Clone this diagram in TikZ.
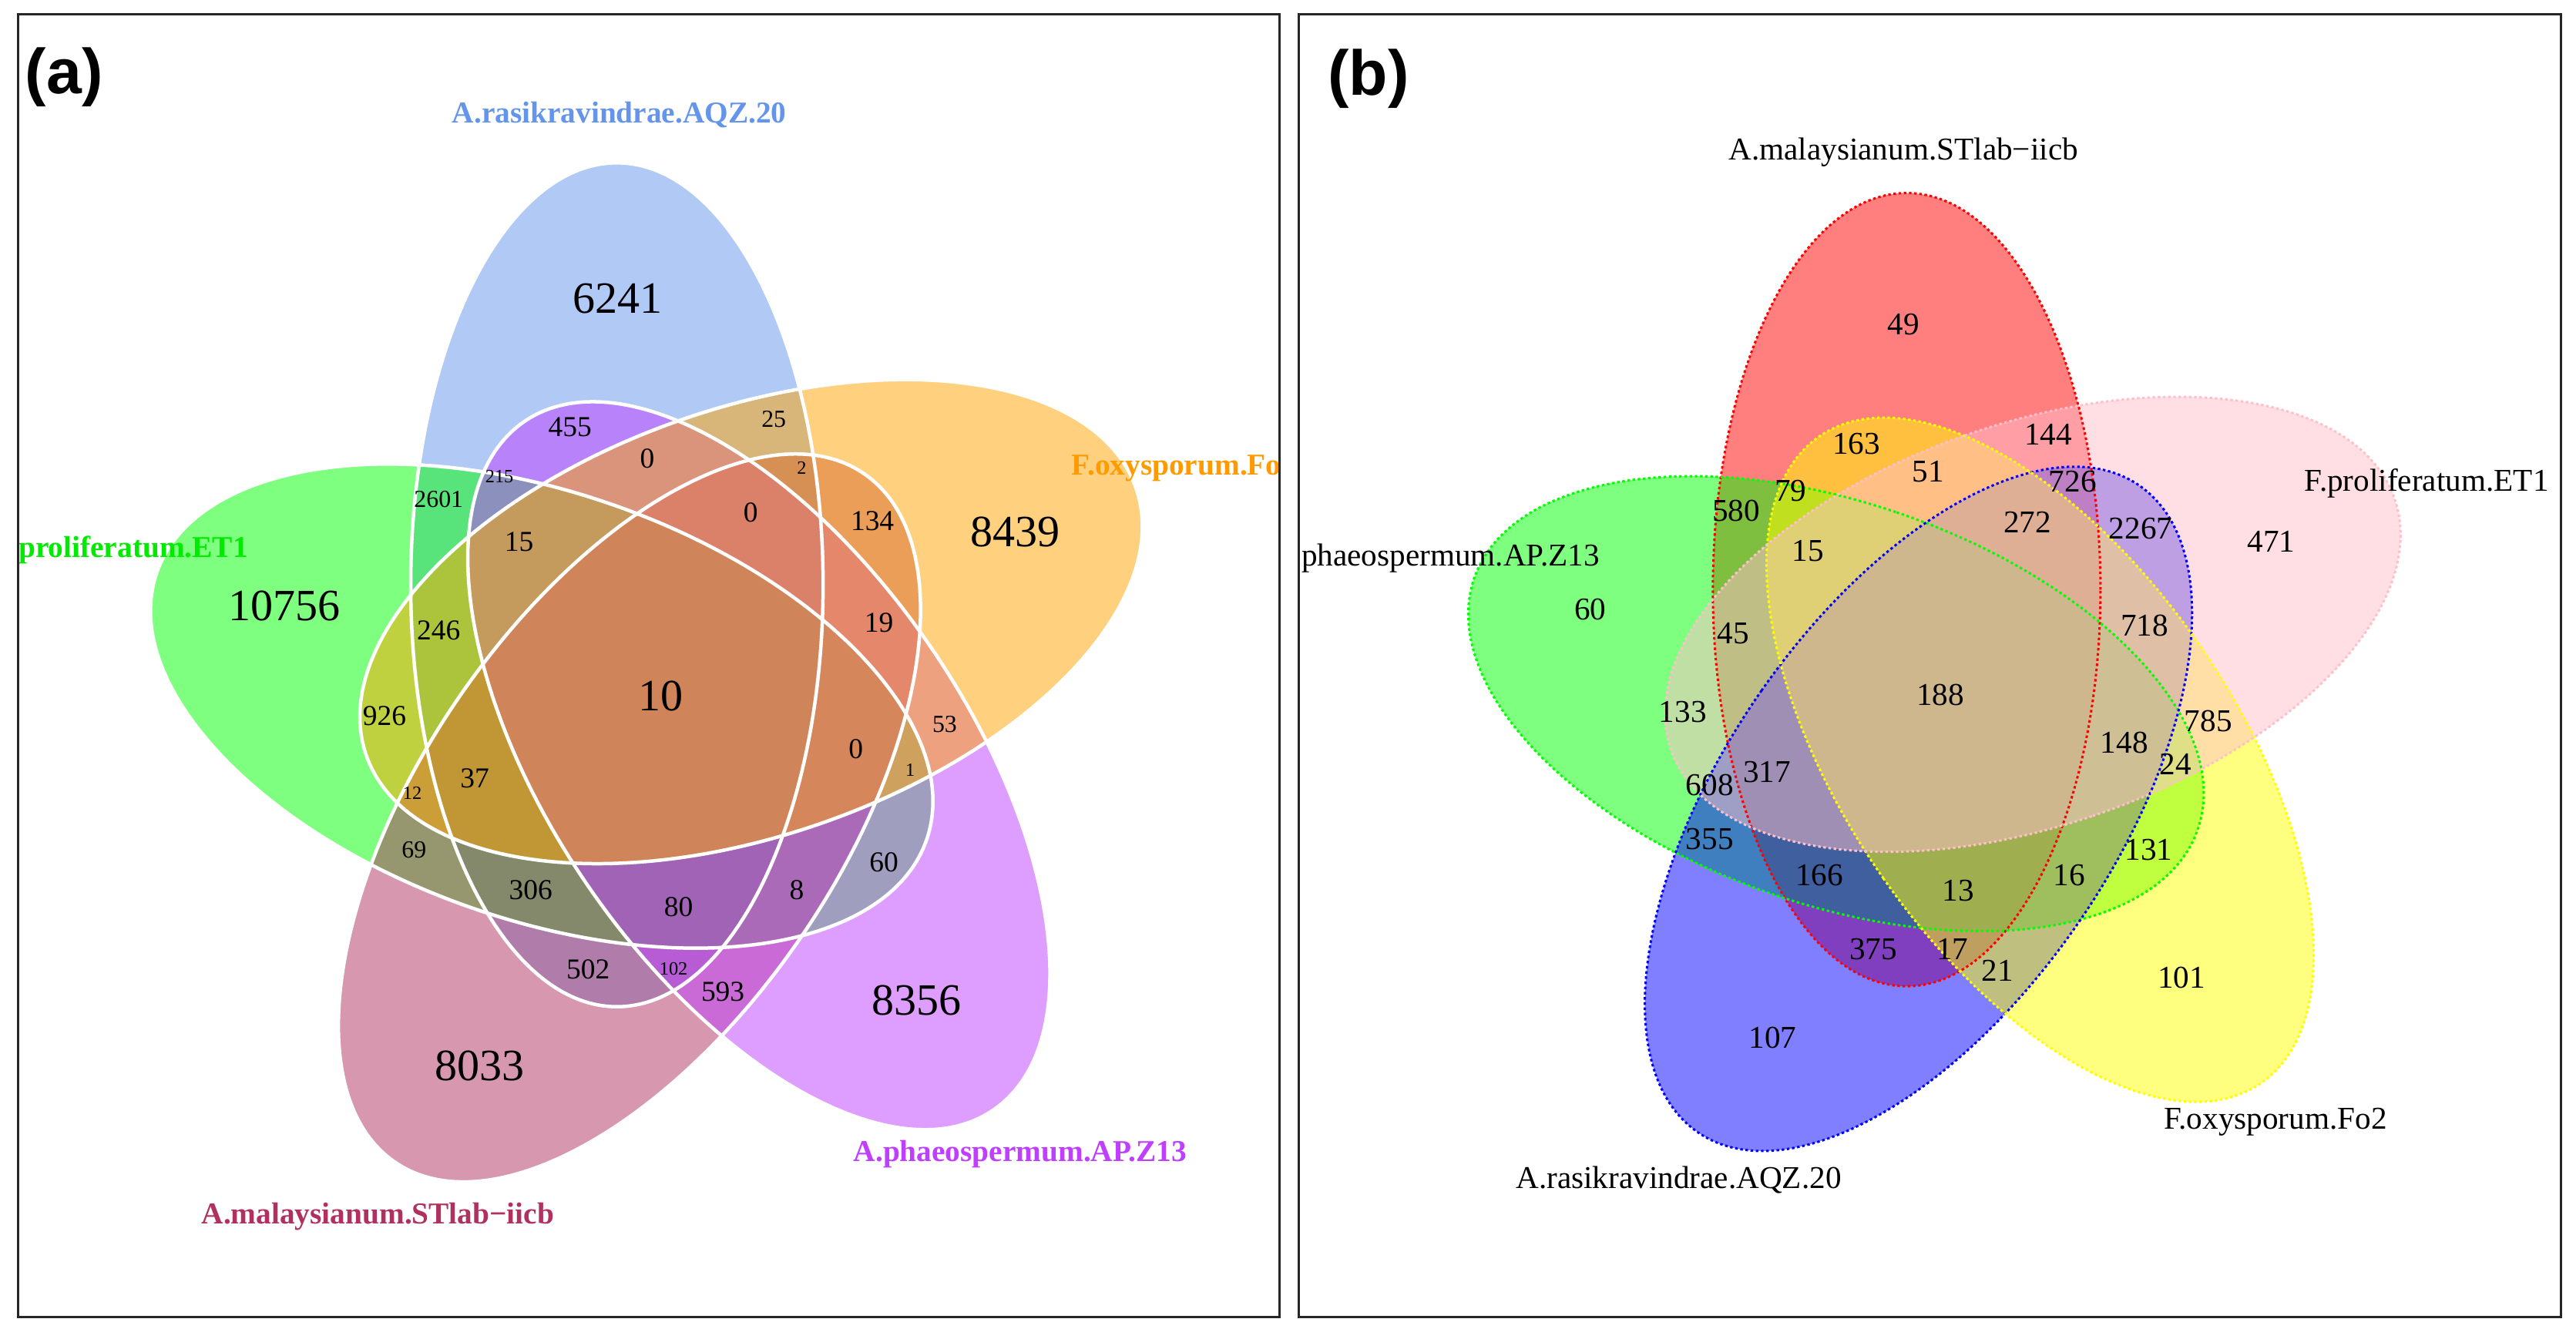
\documentclass[tikz,border=0pt]{standalone}
\usepackage{fontspec}
\setmainfont{Liberation Serif}
\newfontfamily\panelfont{Liberation Sans}

\definecolor{vblue}{RGB}{100,149,237}
\definecolor{vgreen}{RGB}{0,255,0}
\definecolor{vmaroon}{RGB}{176,48,96}
\definecolor{vorchid}{RGB}{191,62,255}
\definecolor{vorange}{RGB}{255,165,0}
\definecolor{vlabgreen}{RGB}{0,235,0}
\definecolor{vlaborange}{RGB}{255,155,0}
\definecolor{wred}{RGB}{255,0,0}
\definecolor{wgreen}{RGB}{0,255,0}
\definecolor{wblue}{RGB}{0,0,255}
\definecolor{wyellow}{RGB}{255,255,0}
\definecolor{wpink}{RGB}{255,192,203}

\tikzset{
  frame/.style={draw=black!85, line width=0.8pt},
  petal/.style={fill=#1, fill opacity=0.5},
  rimA/.style={draw=white, line width=1.2pt},
  rimB/.style={draw=#1, line width=0.8pt, dash pattern=on 0.9pt off 0.9pt},
  setA/.style={font=\fontsize{10.5}{12}\selectfont\bfseries, text=#1},
  setB/.style={font=\fontsize{11}{13}\selectfont}
}

\begin{document}
\begin{tikzpicture}[x=0.02cm, y=0.02cm]

  \useasboundingbox (0,0) rectangle (1568,815);
  \fill[white] (0,0) rectangle (1568,815);

  % panel (a)
  \begin{scope}[shift={(401.5,389.3)}, yscale=1.04]
    \path[petal=vblue, rotate=0] (-26,67) ellipse [x radius=125.5, y radius=247];
    \path[petal=vgreen, rotate=72] (-26,67) ellipse [x radius=125.5, y radius=247];
    \path[petal=vmaroon, rotate=144] (-26,67) ellipse [x radius=125.5, y radius=247];
    \path[petal=vorchid, rotate=216] (-26,67) ellipse [x radius=125.5, y radius=247];
    \path[petal=vorange, rotate=288] (-26,67) ellipse [x radius=125.5, y radius=247];
    \path[rimA, rotate=0] (-26,67) ellipse [x radius=125.5, y radius=247];
    \path[rimA, rotate=72] (-26,67) ellipse [x radius=125.5, y radius=247];
    \path[rimA, rotate=144] (-26,67) ellipse [x radius=125.5, y radius=247];
    \path[rimA, rotate=216] (-26,67) ellipse [x radius=125.5, y radius=247];
    \path[rimA, rotate=288] (-26,67) ellipse [x radius=125.5, y radius=247];
  \end{scope}

  \begin{scope}[every node/.style={font=\fontsize{15.5}{18}\selectfont}]
    \node (a6241) at (376,633) {6241};
    \node (a10756) at (173,446) {10756};
    \node (a8439) at (618,491) {8439};
    \node (a8356) at (558,206) {8356};
    \node (a8033) at (292,166) {8033};
    \node (a10) at (402,391) {10};
  \end{scope}

  \begin{scope}[every node/.style={font=\fontsize{10}{12}\selectfont}]
    \node (a455) at (347,555) {455};
    \node (a0top) at (394,536) {0};
    \node (a0mid) at (457,503) {0};
    \node (a134) at (531,498) {134};
    \node (a15) at (316,485) {15};
    \node (a246) at (267,431) {246};
    \node (a19) at (535,436) {19};
    \node (a926) at (234,379) {926};
    \node (a0low) at (521,359) {0};
    \node (a37) at (289,341) {37};
    \node (a306) at (323,273) {306};
    \node (a80) at (413,263) {80};
    \node (a8) at (485,273) {8};
    \node (a60) at (538,290) {60};
    \node (a502) at (358,225) {502};
    \node (a593) at (440,211) {593};
  \end{scope}

  \begin{scope}[every node/.style={font=\fontsize{8.5}{10}\selectfont}]
    \node (a2601) at (267,511) {2601};
    \node (a53) at (575,374) {53};
    \node (a69) at (252,297.5) {69};
    \node (a25) at (471,560) {25};
  \end{scope}

  \begin{scope}[every node/.style={font=\fontsize{6.5}{8}\selectfont}]
    \node (a2) at (488,530) {2};
    \node (a215) at (304,525) {215};
    \node (a1) at (554,346) {1};
    \node (a12) at (251,332) {12};
    \node (a102) at (410,225) {102};
  \end{scope}

  \begin{scope}
    \clip (11,13) rectangle (779,806.4);
    \node[setA=vblue] (labrasik) at (377,745) {A.rasikravindrae.AQZ.20};
    \node[setA=vlabgreen, anchor=west, inner sep=0pt] (labprolif) at (11,480) {proliferatum.ET1};
    \node[setA=vlaborange, anchor=west, inner sep=0pt] (laboxy) at (652,530) {F.oxysporum.Fo};
    \node[setA=vorchid] (labphaeo) at (621,112.5) {A.phaeospermum.AP.Z13};
    \node[setA=vmaroon] (labmalay) at (230,74.5) {A.malaysianum.STlab−iicb};
  \end{scope}

  % panel (b)
  \begin{scope}[shift={(1185,390.5)}, yscale=1.04, scale=0.94]
    \path[petal=wred, rotate=0] (-26,67) ellipse [x radius=125.5, y radius=247];
    \path[petal=wgreen, rotate=72] (-26,67) ellipse [x radius=125.5, y radius=247];
    \path[petal=wblue, rotate=144] (-26,67) ellipse [x radius=125.5, y radius=247];
    \path[petal=wyellow, rotate=216] (-26,67) ellipse [x radius=125.5, y radius=247];
    \path[petal=wpink, rotate=288] (-26,67) ellipse [x radius=125.5, y radius=247];
    \path[rimB=wred, rotate=0] (-26,67) ellipse [x radius=125.5, y radius=247];
    \path[rimB=wgreen, rotate=72] (-26,67) ellipse [x radius=125.5, y radius=247];
    \path[rimB=wblue, rotate=144] (-26,67) ellipse [x radius=125.5, y radius=247];
    \path[rimB=wyellow, rotate=216] (-26,67) ellipse [x radius=125.5, y radius=247];
    \path[rimB=wpink, rotate=288] (-26,67) ellipse [x radius=125.5, y radius=247];
  \end{scope}

  \begin{scope}[every node/.style={font=\fontsize{11}{13}\selectfont}]
    \node (b49) at (1158.6,617.5) {49};
    \node (b163) at (1130,545) {163};
    \node (b144) at (1246.7,550.5) {144};
    \node (b51) at (1173.6,528) {51};
    \node (b726) at (1261.6,522) {726};
    \node (b79) at (1090,516) {79};
    \node (b580) at (1056.7,504) {580};
    \node (b272) at (1234,497) {272};
    \node (b2267) at (1303,493) {2267};
    \node (b15) at (1100.4,479.4) {15};
    \node (b471) at (1382.5,485.4) {471};
    \node (b60) at (968,444) {60};
    \node (b45) at (1055,429.4) {45};
    \node (b718) at (1305.4,434) {718};
    \node (b188) at (1181,392) {188};
    \node (b133) at (1024.3,381.4) {133};
    \node (b785) at (1344.2,376.2) {785};
    \node (b148) at (1293,363) {148};
    \node (b24) at (1324.3,350) {24};
    \node (b317) at (1075.6,345) {317};
    \node (b608) at (1040.7,337) {608};
    \node (b355) at (1040.7,304) {355};
    \node (b131) at (1307.9,297.5) {131};
    \node (b166) at (1107.4,282) {166};
    \node (b16) at (1259.6,282) {16};
    \node (b13) at (1192,272.6) {13};
    \node (b375) at (1140.2,237.2) {375};
    \node (b17) at (1188.5,237.2) {17};
    \node (b21) at (1215.9,224) {21};
    \node (b101) at (1327.8,220) {101};
    \node (b107) at (1079,183.4) {107};
  \end{scope}

  \begin{scope}
    \clip (790.5,13) rectangle (1559,806.4);
    \node[setB] (lbmalay) at (1158.6,722.5) {A.malaysianum.STlab−iicb};
    \node[setB] (lbprolif) at (1477,520.6) {F.proliferatum.ET1};
    \node[setB, anchor=east, inner sep=0pt] (lbphaeo) at (974,475) {phaeospermum.AP.Z13};
    \node[setB] (lboxy) at (1385,132) {F.oxysporum.Fo2};
    \node[setB] (lbrasik) at (1021.8,96.8) {A.rasikravindrae.AQZ.20};
  \end{scope}

  \node[font=\panelfont\bfseries\fontsize{22}{26}\selectfont] (tagA) at (39,768) {(a)};
  \node[font=\panelfont\bfseries\fontsize{22}{26}\selectfont] (tagB) at (833,767) {(b)};

  \draw[frame] (11,13) rectangle (779,806.4);
  \draw[frame] (790.5,13) rectangle (1559,806.4);

\end{tikzpicture}
\end{document}
